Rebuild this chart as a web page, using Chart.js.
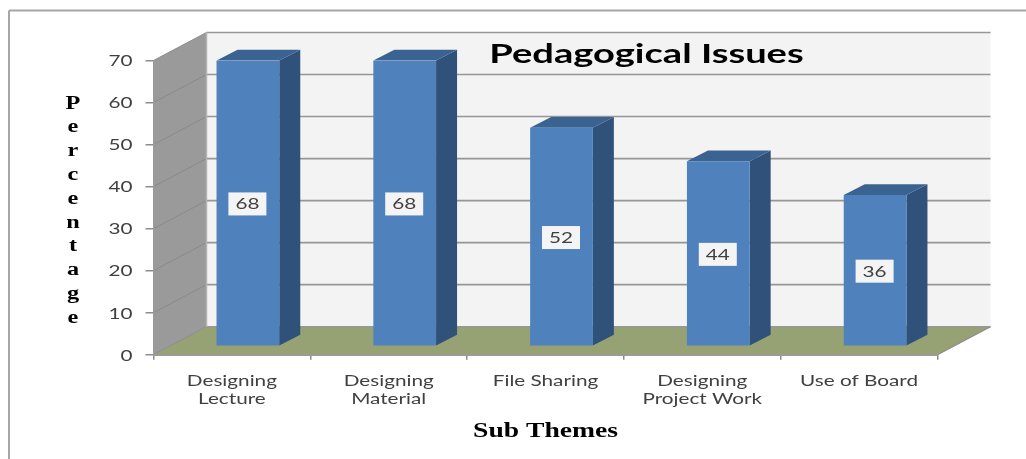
<!DOCTYPE html>
<html><head><meta charset="utf-8">
<style>html,body{margin:0;padding:0;background:#fff}canvas{display:block;filter:blur(0.7px)}</style>
<script src="https://cdn.jsdelivr.net/npm/chart.js@4/dist/chart.umd.min.js"></script>
</head><body>
<div style="width:1026px;height:459px"><canvas id="c" width="1026" height="459" style="width:1026px;height:459px"></canvas></div>
<script>
const categories = [["Designing","Lecture"],["Designing","Material"],"File Sharing",["Designing","Project Work"],"Use of Board"];
const seriesName = "Percentage";
const values = [68, 68, 52, 44, 36];
const yTicks = [0, 10, 20, 30, 40, 50, 60, 70];
const titleText = "Pedagogical Issues";
const xTitleText = "Sub Themes";
const yTitleLetters = ["P","e","r","c","e","n","t","a","g","e"];

const DEPTH_X = 53, DEPTH_Y = 28;      // full floor depth
const BAR_DX = 16, BAR_DY = 8.5;       // bar front offset from the front plane
const SIDE_DX = 21, SIDE_DY = 10.7;    // bar depth
const TEXT_STRETCH = 1.38;
let stretch = TEXT_STRETCH;

function poly(ctx, pts, fill, stroke, lw) {
  ctx.beginPath();
  pts.forEach((p, i) => i ? ctx.lineTo(p[0], p[1]) : ctx.moveTo(p[0], p[1]));
  ctx.closePath();
  if (fill) { ctx.fillStyle = fill; ctx.fill(); }
  if (stroke) { ctx.strokeStyle = stroke; ctx.lineWidth = lw || 1; ctx.stroke(); }
}
function line(ctx, x0, y0, x1, y1, c, lw) {
  ctx.beginPath(); ctx.moveTo(x0, y0); ctx.lineTo(x1, y1);
  ctx.strokeStyle = c; ctx.lineWidth = lw; ctx.stroke();
}

const scene = {
  id: "scene",
  afterDatasetsUpdate(chart) {
    chart.getDatasetMeta(0).data.forEach(b => {
      b.x += BAR_DX; b.y -= BAR_DY; b.base -= BAR_DY;
    });
  },
  beforeDraw(chart) {
    const ctx = chart.ctx;
    if (!ctx._wrapped) {
      const orig = ctx.fillText.bind(ctx);
      ctx.fillText = function (t, x, y, m) {
        ctx.save(); ctx.translate(x, y + 1); ctx.scale(stretch, 1);
        m === undefined ? orig(t, 0, 0) : orig(t, 0, 0, m / stretch);
        ctx.restore();
      };
      ctx._wrapped = true;
    }
    stretch = TEXT_STRETCH;
    const a = chart.chartArea, ys = chart.scales.y;
    const L = a.left, R = a.right, T = ys.getPixelForValue(70), B = ys.getPixelForValue(0);
    ctx.save();
    // outer frame
    line(ctx, 9, 459, 9, 10.5, "#a6a6a6", 2);
    line(ctx, 9, 10.5, 1026, 10.5, "#a6a6a6", 2);
    // walls and floor
    poly(ctx, [[L + DEPTH_X, T - DEPTH_Y], [R + DEPTH_X, T - DEPTH_Y], [R + DEPTH_X, B - DEPTH_Y], [L + DEPTH_X, B - DEPTH_Y]], "#f3f3f3");
    poly(ctx, [[L, T], [L + DEPTH_X, T - DEPTH_Y], [L + DEPTH_X, B - DEPTH_Y], [L, B]], "#9a9a9a");
    poly(ctx, [[L, B], [R, B], [R + DEPTH_X, B - DEPTH_Y], [L + DEPTH_X, B - DEPTH_Y]], "#97a274");
    // gridlines on wall
    yTicks.forEach(v => {
      const y = ys.getPixelForValue(v);
      line(ctx, L, y, L + DEPTH_X, y - DEPTH_Y, "#8a8a8a", 1);
      line(ctx, L + DEPTH_X, y - DEPTH_Y, R + DEPTH_X, y - DEPTH_Y, "#969696", 1.6);
    });
    line(ctx, L + DEPTH_X, T - DEPTH_Y, L + DEPTH_X, B - DEPTH_Y, "#b4b4b4", 1.5);
    line(ctx, R, B, R + DEPTH_X, B - DEPTH_Y, "#8c8c8c", 1.2);
    ctx.restore();
  },
  beforeDatasetsDraw(chart) {
    const ctx = chart.ctx;
    chart.getDatasetMeta(0).data.forEach(b => {
      const l = b.x - b.width / 2, r = b.x + b.width / 2;
      poly(ctx, [[r, b.y], [r + SIDE_DX, b.y - SIDE_DY], [r + SIDE_DX, b.base - SIDE_DY], [r, b.base]], "#30517a");
      poly(ctx, [[l, b.y], [l + SIDE_DX, b.y - SIDE_DY], [r + SIDE_DX, b.y - SIDE_DY], [r, b.y]], "#3b6391");
    });
  },
  afterDatasetsDraw(chart) {
    const ctx = chart.ctx;
    ctx.save();
    stretch = TEXT_STRETCH;
    ctx.textAlign = "center"; ctx.textBaseline = "middle";
    chart.getDatasetMeta(0).data.forEach((b, i) => {
      const cy = (b.y + b.base) / 2 + 1;
      ctx.fillStyle = "#f4f4f4";
      ctx.fillRect(b.x - 19.5, cy - 11.5, 38, 23);
      ctx.fillStyle = "#404040";
      ctx.font = "15px Lato";
      ctx.fillText(String(values[i]), b.x - 0.5, cy - 0.5);
    });
    ctx.restore();
  },
  afterDraw(chart) {
    const ctx = chart.ctx;
    ctx.save();
    ctx.textAlign = "center"; ctx.textBaseline = "middle";
    ctx.fillStyle = "#000";
    stretch = 1.41;
    ctx.font = "bold 27px Lato";
    ctx.fillText(titleText, 646.5, 53);
    stretch = 1.35;
    ctx.font = "bold 18px 'Liberation Serif'";
    yTitleLetters.forEach((ch, i) => ctx.fillText(ch, 73, 103 + i * 23.8));
    ctx.restore();
    stretch = TEXT_STRETCH;
  }
};

new Chart(document.getElementById("c"), {
  type: "bar",
  data: { labels: categories, datasets: [{ label: seriesName, data: values, backgroundColor: "#4f81bd", borderWidth: 0, barPercentage: 0.4, categoryPercentage: 1 }] },
  options: {
    responsive: false, animation: false,
    layout: { padding: { left: 0, right: 88.5, top: 60.5, bottom: 16 } },
    plugins: { legend: { display: false }, tooltip: { enabled: false }, title: { display: false } },
    scales: {
      x: {
        offset: true,
        afterFit(s) { s.height = 88.3; },
        grid: { offset: true, drawOnChartArea: false, color: "#8c8c8c", tickLength: 5, lineWidth: 1.5 },
        border: { color: "#9a9a9a", width: 2 },
        ticks: { autoSkip: false, maxRotation: 0, minRotation: 0, padding: 11, color: "#404040", font: { family: "Lato", size: 15, lineHeight: 1.2 } },
        title: { display: true, text: xTitleText, color: "#000", padding: 0, font: { family: "'Liberation Serif'", weight: "bold", size: 20, lineHeight: 1.2 } }
      },
      y: {
        min: 0, max: 70,
        afterFit(s) { s.width = 153.5; },
        afterBuildTicks(s) { s.ticks = yTicks.map(v => ({ value: v })); },
        grid: { drawOnChartArea: false, color: "#8c8c8c", tickLength: 8, lineWidth: 1.5 },
        border: { color: "#9a9a9a", width: 2 },
        ticks: { padding: 13, color: "#404040", font: { family: "Lato", size: 15 } }
      }
    }
  },
  plugins: [scene]
});
</script>
</body></html>
